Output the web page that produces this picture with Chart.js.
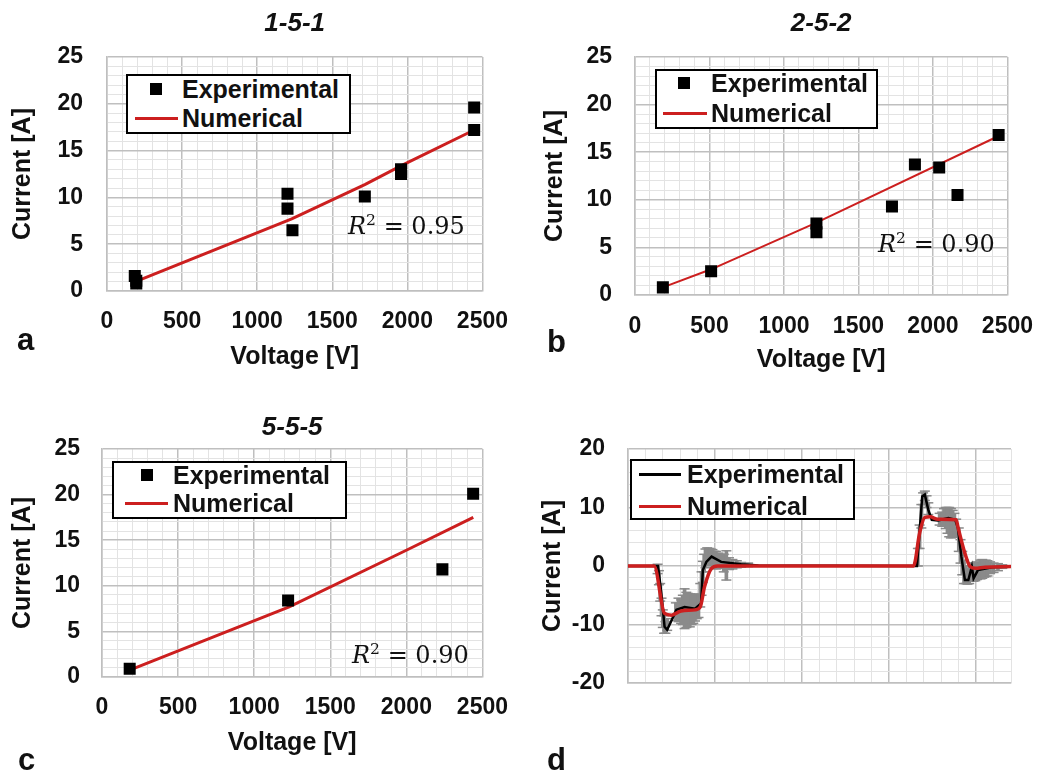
<!DOCTYPE html>
<html>
<head>
<meta charset="utf-8">
<script src="https://cdn.jsdelivr.net/npm/chart.js@4.4.1/dist/chart.umd.min.js"></script>
<style>
  html, body { margin: 0; padding: 0; background: #fff; }
  #page { position: relative; width: 1051px; height: 775px; overflow: hidden; font-family: "Liberation Sans", Arial, sans-serif; color: #111; }
  canvas { position: absolute; }
  .legend { position: absolute; border: 2px solid #000; background: #fff; box-sizing: border-box; }
  .legend span { position: absolute; }
  .legend .txt { font-size: 25px; font-weight: bold; line-height: 30px; white-space: nowrap; }
  .legend .sq { width: 12px; height: 12px; background: #000; }
  .legend .ln { height: 3px; }
  .r2 { position: absolute; font-family: "DejaVu Serif", serif; font-size: 24px; line-height: 1; white-space: nowrap; }
  .r2 sup { font-size: 0.65em; vertical-align: 0; position: relative; top: -0.6em; }
  .letter { position: absolute; font-size: 31px; font-weight: bold; line-height: 1; }
</style>
</head>
<body>
<div id="page">
  <canvas id="chartA" width="525" height="380" style="left:0;top:0"></canvas>
  <canvas id="chartB" width="526" height="380" style="left:525px;top:0"></canvas>
  <canvas id="chartC" width="525" height="395" style="left:0;top:380px"></canvas>
  <canvas id="chartD" width="526" height="395" style="left:525px;top:380px"></canvas>

  <div class="r2" style="left:348px;top:214px"><i>R</i><sup>2</sup> = 0.95</div>
  <div class="r2" style="left:878px;top:232px"><i>R</i><sup>2</sup> = 0.90</div>
  <div class="r2" style="left:352px;top:643px"><i>R</i><sup>2</sup> = 0.90</div>

  <div class="letter" style="left:17px;top:324px">a</div>
  <div class="letter" style="left:547px;top:326px">b</div>
  <div class="letter" style="left:18px;top:744px">c</div>
  <div class="letter" style="left:547px;top:744px">d</div>
</div>
<script>
// Tick labels
const voltTicks = [0, 500, 1000, 1500, 2000, 2500];
const currTicks = [0, 5, 10, 15, 20, 25];
const dCurrTicks = [-20, -10, 0, 10, 20];
const dTimeMajor = [0, 1, 2, 3, 4];

// Panel a: 1-5-1
const aExpV = [185, 195, 195, 1202, 1202, 1235, 1717, 1958, 1958, 2445, 2445];
const aExpI = [1.6, 1.1, 0.8, 10.4, 8.8, 6.5, 10.1, 13.0, 12.5, 19.6, 17.2];
const aNumV = [190, 1230, 1720, 1960, 2445];
const aNumI = [1.0, 7.7, 11.4, 13.4, 17.2];

// Panel b: 2-5-2
const bExpV = [187, 511, 1218, 1218, 1725, 1879, 2042, 2165, 2441];
const bExpI = [0.8, 2.5, 7.5, 6.6, 9.3, 13.7, 13.4, 10.5, 16.8];
const bNumV = [187, 511, 1218, 2441];
const bNumI = [0.8, 2.7, 7.6, 16.7];

// Panel c: 5-5-5
const cExpV = [182, 1223, 2237, 2439];
const cExpI = [0.9, 8.4, 11.8, 20.1];
const cNumV = [190, 1230, 2000, 2440];
const cNumI = [0.8, 7.7, 13.9, 17.5];

// Panel d: current over time
const dNumT = [0, 0.3, 0.42, 0.5, 0.61, 0.77, 0.83, 0.88, 0.96, 1.03, 3.28, 3.35, 3.41, 3.47, 3.56, 3.77, 3.79, 3.87, 3.93, 3.99, 4.1, 4.4];
const dNumI = [0, 0, -8.1, -8.4, -7.7, -7.5, -7, -3.5, -0.4, 0, 0, 5.6, 8.3, 8.4, 8.0, 7.9, 6.7, 2.2, -0.1, -0.4, -0.2, -0.1];
const dExpT = [0, 0.345, 0.383, 0.42, 0.45, 0.5, 0.556, 0.65, 0.77, 0.84, 0.86, 0.9, 0.96, 1.07, 1.3, 1.5, 3.32, 3.38, 3.41, 3.45, 3.49, 3.56, 3.68, 3.76, 3.79, 3.83, 3.87, 3.91, 3.95, 3.97, 4.02, 4.18, 4.4];
const dExpI = [0, 0, -4.7, -10.4, -10.9, -9.3, -7.5, -7.0, -7.3, -6.4, -0.7, 0.7, 1.6, 0.7, 0.3, 0.1, 0, 11.9, 12.2, 9.6, 7.9, 7.8, 8.2, 7.9, 6.5, 1.6, -2.4, -2.4, -0.1, -2.1, -0.7, -0.2, -0.1];
// error bars of the experimental trace: time, centre, half size
const errT = [0.34, 0.355, 0.37, 0.385, 0.40, 0.415, 0.43, 0.45,
              0.55, 0.58, 0.61, 0.63, 0.65, 0.67, 0.69, 0.71, 0.73, 0.75, 0.77, 0.79, 0.81, 0.83,
              0.845, 0.86, 0.875,
              0.89, 0.91, 0.93, 0.95, 0.97, 0.99, 1.01, 1.04, 1.07, 1.10, 1.13, 1.16, 1.20, 1.25, 1.30, 1.38,
              3.33, 3.35, 3.37, 3.39, 3.41, 3.43, 3.45,
              3.58, 3.61, 3.63, 3.65, 3.67, 3.69, 3.71, 3.73, 3.75, 3.77,
              3.80, 3.82, 3.84, 3.86, 3.88, 3.90, 3.92,
              3.95, 3.97, 3.99, 4.01, 4.03, 4.05, 4.07, 4.09, 4.11, 4.13, 4.16, 4.20, 4.25, 4.30];
const errI = [-0.5, -2, -4.5, -7, -9, -10, -10.5, -10,
              -7.8, -7.5, -7.8, -7.5, -7.3, -7.5, -7.2, -7.6, -7.5, -7.3, -7.2, -7, -6.8, -5,
              -3, -1, 0.5,
              1.3, 1.6, 1.8, 1.6, 1.3, 1.1, 1.0, 0.9, 0.8, 0.5, 0.1, 0.4, 0.3, 0.3, 0.2, 0.2,
              1.5, 5, 8.5, 11.5, 12, 11, 9.8,
              8, 8, 8.3, 8.2, 7.8, 7.5, 7.3, 7.2, 7, 6.5,
              4.5, 2.5, 0.5, -1, -1.5, -1.8, -1.5,
              -1, -1.2, -1, -0.8, -0.8, -0.6, -0.5, -0.5, -0.4, -0.4, -0.3, -0.3, -0.2, -0.1];
const errE = [0.8, 1.2, 1.5, 1.5, 1.5, 1.5, 1, 1,
              1.5, 2, 2, 2.5, 3.4, 3, 2.5, 2.8, 2.5, 2.5, 2.2, 2, 2, 2,
              2, 1.8, 1.5,
              1.6, 1.5, 1.2, 1.3, 1.5, 1.4, 1.5, 1.3, 1.2, 1.5, 2.5, 1, 0.8, 0.6, 0.4, 0.3,
              1.5, 2, 2, 1, 0.8, 1, 1,
              1, 1.2, 1.5, 1.8, 2.2, 2.5, 2.5, 2.3, 2, 1.5,
              2, 2, 2, 2, 1.5, 1.3, 1.5,
              1.5, 1.4, 1.5, 1.5, 1.3, 1.6, 1.6, 1.4, 1.4, 1.3, 1, 0.8, 0.6, 0.3];

const RED = '#cc1f1f';
const GRAY = '#8a8a8a';
const TEXT = '#111';

Chart.defaults.font.family = '"Liberation Sans", Arial, sans-serif';
Chart.defaults.color = TEXT;

function isMajor(list, v) {
    return list.some(t => Math.abs(t - v) < 1e-6);
}

function toXY(xs, ys) {
    return xs.map((x, i) => ({ x: x, y: ys[i] }));
}

// One axis with Excel style major + minor grid
function axisOpts(o) {
    const major = c => c.tick && isMajor(o.major, c.tick.value);
    return {
        type: 'linear',
        position: o.position,
        min: o.min,
        max: o.max,
        offset: false,
        border: { color: '#bfbfbf', width: 1.5 },
        grid: {
            offset: false,
            drawTicks: false,
            color: c => major(c) ? '#bfbfbf' : '#e3e3e3',
            lineWidth: c => major(c) ? 1.5 : 1
        },
        ticks: {
            stepSize: o.step,
            autoSkip: false,
            maxRotation: 0,
            padding: o.pad,
            display: !!o.labels,
            font: { size: 23, weight: 'bold' },
            color: TEXT,
            callback: v => isMajor(o.labels || [], v) ? v : ''
        },
        title: {
            display: !!o.title,
            text: o.title,
            font: { size: 25, weight: 'bold' },
            color: TEXT,
            padding: { top: o.titlePad || 0, bottom: 0 }
        },
        afterFit: s => {
            if (o.position === 'left') s.width = o.size;
            else s.height = o.size;
        }
    };
}

function baseOptions(lay) {
    return {
        responsive: false,
        maintainAspectRatio: false,
        animation: false,
        layout: { padding: lay.padding },
        plugins: {
            legend: { display: false },
            tooltip: { enabled: false },
            title: {
                display: !!lay.title,
                text: lay.title,
                fullSize: false,
                font: { size: 26, weight: 'bold', style: 'italic' },
                color: TEXT,
                padding: lay.titlePad
            }
        },
        scales: {
            x: axisOpts(lay.x),
            y: axisOpts(lay.y)
        }
    };
}

// Voltage / current scatter panels (a, b, c)
function scatterPanel(id, expV, expI, numV, numI, lay, lineW) {
    new Chart(document.getElementById(id), {
        type: 'scatter',
        data: {
            datasets: [
                { label: 'Experimental', data: toXY(expV, expI), pointStyle: 'rect', pointRadius: 8.5,
                  backgroundColor: '#000', borderColor: '#000', borderWidth: 0, order: 0 },
                { label: 'Numerical', data: toXY(numV, numI), showLine: true, borderColor: RED,
                  borderWidth: lineW, pointRadius: 0, order: 1 }
            ]
        },
        options: baseOptions(lay)
    });
}

function voltAxis(size, pad) {
    return { position: 'bottom', min: 0, max: 2500, step: 100, major: voltTicks, labels: voltTicks,
             pad: pad, size: size, title: 'Voltage [V]' };
}
function currAxis(size, pad, titlePad) {
    return { position: 'left', min: 0, max: 25, step: 1, major: currTicks, labels: currTicks,
             pad: pad, size: size, title: 'Current [A]', titlePad: titlePad };
}

scatterPanel('chartA', aExpV, aExpI, aNumV, aNumI, {
    padding: { left: 0, right: 38, top: 0, bottom: 8 },
    title: '1-5-1', titlePad: { top: 8.4, bottom: 17.4 },
    x: voltAxis(81, 17), y: currAxis(107, 24, 8)
}, 3);

scatterPanel('chartB', bExpV, bExpI, bNumV, bNumI, {
    padding: { left: 0, right: 38, top: 0, bottom: 5 },
    title: '2-5-2', titlePad: { top: 8.4, bottom: 17.4 },
    x: voltAxis(80, 18), y: currAxis(110, 23, 15)
}, 2);

scatterPanel('chartC', cExpV, cExpI, cNumV, cNumI, {
    padding: { left: 0, right: 42, top: 0, bottom: 17 },
    title: '5-5-5', titlePad: { top: 32.4, bottom: 5.4 },
    x: voltAxis(81, 17), y: currAxis(102, 22, 8)
}, 3);

// Panel d: time trace with error bars
const errLo = errT.map((t, i) => ({ x: t, y: errI[i] - errE[i] }));
const errHi = errT.map((t, i) => ({ x: t, y: errI[i] + errE[i] }));

const dOptions = baseOptions({
    padding: { left: 0, right: 40, top: 69, bottom: 82 },
    x: { position: 'bottom', min: 0, max: 4.4, step: 0.2, major: dTimeMajor, labels: null, size: 10 },
    y: { position: 'left', min: -20, max: 20, step: 2, major: dCurrTicks, labels: dCurrTicks,
         pad: 23, size: 103, title: 'Current [A]', titlePad: 13 }
});

new Chart(document.getElementById('chartD'), {
    type: 'line',
    data: {
        datasets: [
            { label: 'Numerical', data: toXY(dNumT, dNumI), borderColor: RED, borderWidth: 3.5,
              pointRadius: 0, cubicInterpolationMode: 'monotone', order: 0 },
            { label: 'Experimental', data: toXY(dExpT, dExpI), borderColor: '#000', borderWidth: 2.5,
              pointRadius: 0, tension: 0, order: 1 },
            { type: 'bar', label: 'err', data: errT.map((t, i) => ({ x: t, y: [errLo[i].y, errHi[i].y] })),
              backgroundColor: GRAY, barThickness: 3, order: 2 },
            { type: 'scatter', label: 'errCaps', data: errLo.concat(errHi), pointStyle: 'line', pointRadius: 5,
              borderColor: GRAY, borderWidth: 1.5, order: 2 }
        ]
    },
    options: dOptions
});

// HTML legends with a frame, as in the source figure
function makeLegend(box, rows) {
    const el = document.createElement('div');
    el.className = 'legend';
    el.style.left = box[0] + 'px';
    el.style.top = box[1] + 'px';
    el.style.width = box[2] + 'px';
    el.style.height = box[3] + 'px';
    rows.forEach(r => {
        const m = document.createElement('span');
        if (r.kind === 'square') {
            m.className = 'sq';
            m.style.left = (r.mx - 6) + 'px';
            m.style.top = (r.y - 6) + 'px';
        } else {
            m.className = 'ln';
            m.style.background = r.color;
            m.style.left = r.mx + 'px';
            m.style.width = r.mw + 'px';
            m.style.top = (r.y - 1.5) + 'px';
        }
        el.appendChild(m);
        const t = document.createElement('span');
        t.className = 'txt';
        t.textContent = r.label;
        t.style.left = r.tx + 'px';
        t.style.top = (r.y - 15) + 'px';
        el.appendChild(t);
    });
    document.getElementById('page').appendChild(el);
}

makeLegend([126, 74, 225, 60], [
    { kind: 'square', mx: 28, y: 13, label: 'Experimental', tx: 54 },
    { kind: 'line', color: RED, mx: 7, mw: 43, y: 42, label: 'Numerical', tx: 54 }
]);
makeLegend([655, 69, 223, 60], [
    { kind: 'square', mx: 27, y: 12, label: 'Experimental', tx: 54 },
    { kind: 'line', color: RED, mx: 6, mw: 44, y: 42, label: 'Numerical', tx: 54 }
]);
makeLegend([112, 461, 235, 58], [
    { kind: 'square', mx: 33, y: 12, label: 'Experimental', tx: 59 },
    { kind: 'line', color: RED, mx: 11, mw: 43, y: 40, label: 'Numerical', tx: 59 }
]);
makeLegend([630, 459, 225, 61], [
    { kind: 'line', color: '#000', mx: 7, mw: 42, y: 13, label: 'Experimental', tx: 55 },
    { kind: 'line', color: RED, mx: 7, mw: 42, y: 45, label: 'Numerical', tx: 55 }
]);
</script>
</body>
</html>
